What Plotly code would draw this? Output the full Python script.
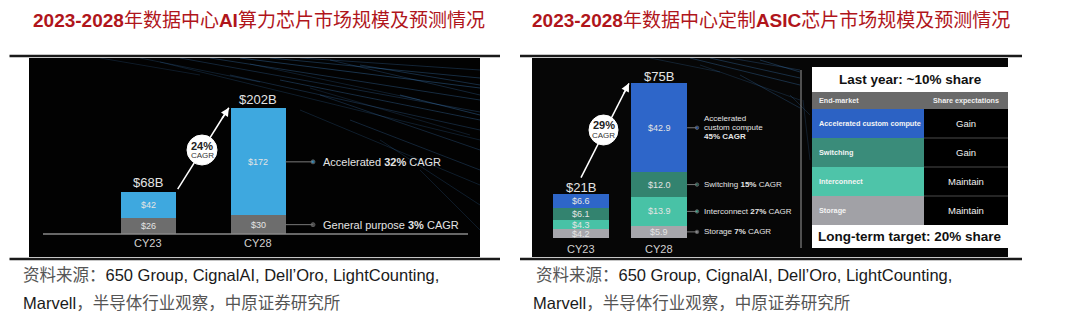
import plotly.graph_objects as go

W, H = 1080, 318

# ---------------- data ----------------
years = ["CY23", "CY28"]

ai_general = [26, 30]
ai_accelerated = [42, 172]
ai_total_labels = ["$68B", "$202B"]
ai_cagr = "24%"
ai_segment_names = ["General purpose", "Accelerated"]
ai_segment_cagr = ["3%", "32%"]

asic_storage = [4.2, 5.9]
asic_interconnect = [4.3, 13.9]
asic_switching = [6.1, 12.0]
asic_accelerated = [6.6, 42.9]
asic_total_labels = ["$21B", "$75B"]
asic_cagr = "29%"
asic_segment_names = ["Storage", "Interconnect", "Switching", "Accelerated custom compute"]
asic_segment_cagr = ["7%", "27%", "15%", "45%"]

table_top = "Last year: ~10% share"
table_bottom = "Long-term target: 20% share"
table_header = ["End-market", "Share expectations"]
table_markets = ["Accelerated custom compute", "Switching", "Interconnect", "Storage"]
table_expect = ["Gain", "Gain", "Maintain", "Maintain"]

title_left = "<b>2023-2028</b>年数据中心<b>AI</b>算力芯片市场规模及预测情况"
title_right = "<b>2023-2028</b>年数据中心定制<b>ASIC</b>芯片市场规模及预测情况"
source_1 = "<span style='color:#555'>资料来源：</span>650 Group, CignalAI, Dell’Oro, LightCounting,"
source_2 = "Marvell<span style='color:#555'>，半导体行业观察，中原证券研究所</span>"

# ---------------- styles ----------------
C_AI_GEN = "#6d6d6d"
C_AI_ACC = "#3ea8df"
C_STOR = "#a6a6ab"
C_INTER = "#48c2a6"
C_SWITCH = "#33836f"
C_ACC = "#2e66c9"
T_COLORS = ["#2c62c4", "#3a8c7a", "#4ec4a9", "#a1a1a6"]
FONT = "Liberation Sans, Arial, Noto Sans CJK SC, sans-serif"
TXT = "#e4e4e4"

KL = 0.622   # px per $B, left chart
KR = 2.07    # px per $B, right chart
PXL = 110.0  # px per category step, left
PXR = 78.0   # px per category step, right


def PX(x):
    return x / W


def PY(y):
    return 1 - y / H


def lx(p):
    return (p - 148) / PXL


def ly(p):
    return (234 - p) / KL


def rx(p):
    return (p - 581) / PXR


def ry(p):
    return (238 - p) / KR


fig = go.Figure()
xs = [0, 1]

# ---------------- bars ----------------
for vals, col in [(ai_general, C_AI_GEN), (ai_accelerated, C_AI_ACC)]:
    fig.add_bar(x=xs, y=vals, width=0.5, marker=dict(color=col, line=dict(width=0)),
                xaxis="x", yaxis="y", hoverinfo="skip")
asic_series = [asic_storage, asic_interconnect, asic_switching, asic_accelerated]
asic_cols = [C_STOR, C_INTER, C_SWITCH, C_ACC]
for vals, col in zip(asic_series, asic_cols):
    fig.add_bar(x=xs, y=vals, width=0.72, marker=dict(color=col, line=dict(width=0)),
                xaxis="x2", yaxis="y2", hoverinfo="skip")

shapes = []
ann = []

# black image backgrounds
shapes.append(dict(type="rect", xref="paper", yref="paper", x0=PX(29), x1=PX(480),
                   y0=PY(257), y1=PY(58), fillcolor="#020202", line=dict(width=0), layer="below"))
shapes.append(dict(type="rect", xref="paper", yref="paper", x0=PX(532), x1=PX(1008),
                   y0=PY(257), y1=PY(58), fillcolor="#060606", line=dict(width=0), layer="below"))

# decorative light streaks
streaks_left = [(180, 58, 480, 112, 0.25), (210, 58, 480, 100, 0.3), (240, 58, 480, 88, 0.35),
                (270, 58, 480, 78, 0.3), (300, 58, 480, 70, 0.25), (160, 62, 480, 140, 0.2),
                (230, 75, 480, 130, 0.25), (280, 80, 480, 120, 0.3), (320, 95, 480, 150, 0.25),
                (300, 110, 480, 185, 0.2), (350, 120, 480, 170, 0.25), (380, 140, 480, 205, 0.2),
                (400, 95, 480, 115, 0.35), (360, 65, 480, 85, 0.3), (140, 58, 260, 82, 0.2),
                (100, 58, 200, 75, 0.18), (420, 170, 480, 230, 0.18), (330, 60, 480, 95, 0.25),
                (250, 64, 420, 100, 0.2), (310, 88, 470, 135, 0.18)]
for x0, y0, x1, y1, a in streaks_left:
    shapes.append(dict(type="line", xref="x", yref="y", x0=lx(x0), y0=ly(y0), x1=lx(x1), y1=ly(y1),
                       line=dict(color=f"rgba(70,140,210,{a})", width=1), layer="below"))
streaks_right = [(690, 58, 800, 85, 0.3), (710, 58, 800, 78, 0.3), (730, 58, 800, 70, 0.25),
                 (700, 65, 800, 100, 0.2), (740, 75, 800, 108, 0.25), (760, 60, 800, 72, 0.3),
                 (650, 58, 720, 72, 0.2), (790, 95, 810, 115, 0.2), (803, 100, 810, 160, 0.18)]
for x0, y0, x1, y1, a in streaks_right:
    shapes.append(dict(type="line", xref="x2", yref="y2", x0=rx(x0), y0=ry(y0), x1=rx(x1), y1=ry(y1),
                       line=dict(color=f"rgba(70,140,210,{a})", width=1), layer="below"))

# frame lines above / below each panel
for xa, xb in [(9.5, 500), (520, 1022)]:
    shapes.append(dict(type="line", xref="paper", yref="paper", x0=PX(xa), x1=PX(xb),
                       y0=PY(56), y1=PY(56), line=dict(color="#1a1a1a", width=2.5)))
    shapes.append(dict(type="line", xref="paper", yref="paper", x0=PX(xa), x1=PX(xb),
                       y0=PY(259), y1=PY(259), line=dict(color="#1a1a1a", width=2.5)))

# left baseline
shapes.append(dict(type="line", xref="x", yref="y", x0=lx(43), x1=lx(468), y0=0, y1=0,
                   line=dict(color="#8a8a8a", width=1.5)))

# right separator
shapes.append(dict(type="line", xref="paper", yref="paper", x0=PX(801), x1=PX(801),
                   y0=PY(70), y1=PY(248), line=dict(color="#9a9a9a", width=1)))

# ---------------- left chart labels ----------------
ai_series = [ai_general, ai_accelerated]
for i in range(2):
    cum = 0
    for s in ai_series:
        v = s[i]
        ann.append(dict(xref="x", yref="y", x=xs[i], y=cum + v / 2, text=f"${v:g}", showarrow=False,
                        font=dict(size=9, color=TXT, family=FONT)))
        cum += v
    ann.append(dict(xref="x", yref="y", x=xs[i], y=cum, yshift=9, text=ai_total_labels[i],
                    showarrow=False, font=dict(size=13, color=TXT, family=FONT)))
    ann.append(dict(xref="x", yref="y", x=xs[i], y=0, yshift=-9, text=years[i], showarrow=False,
                    font=dict(size=11, color="#d0d0d0", family=FONT)))

cum = 0
for s, nm, cg, dot in zip(ai_series, ai_segment_names, ai_segment_cagr, [C_AI_GEN, C_AI_ACC]):
    mid = cum + s[1] / 2
    cum += s[1]
    fig.add_scatter(x=[1 + 0.25, lx(313)], y=[mid, mid], mode="lines+markers", xaxis="x", yaxis="y",
                    line=dict(color="#7a7a7a", width=1), marker=dict(size=[0, 4], color=dot),
                    hoverinfo="skip")
    ann.append(dict(xref="x", yref="y", x=lx(321), y=mid, xanchor="left", showarrow=False,
                    text=f"{nm} <b>{cg}</b> CAGR", font=dict(size=11, color=TXT, family=FONT)))

# left CAGR arrow + circle
tl = [sum(v) for v in zip(*ai_series)]
a0 = (0 + 0.27, tl[0] + 4)
a1 = (1 - 0.265, tl[1] + 1)
shapes.append(dict(type="line", xref="x", yref="y", x0=a0[0], y0=a0[1], x1=a1[0], y1=a1[1],
                   line=dict(color="white", width=1.5)))
ann.append(dict(xref="x", yref="y", axref="x", ayref="y", x=a1[0], y=a1[1],
                ax=a0[0] + 0.85 * (a1[0] - a0[0]), ay=a0[1] + 0.85 * (a1[1] - a0[1]),
                text="", showarrow=True, arrowhead=2, arrowsize=1.1, arrowwidth=1.5, arrowcolor="white"))
shapes.append(dict(type="circle", xref="paper", yref="paper", x0=PX(187), x1=PX(217),
                   y0=PY(165), y1=PY(135), fillcolor="white", line=dict(color="white", width=1)))
ann.append(dict(xref="paper", yref="paper", x=PX(202), y=PY(146), text=f"<b>{ai_cagr}</b>",
                showarrow=False, font=dict(size=11, color="#222", family=FONT)))
ann.append(dict(xref="paper", yref="paper", x=PX(202), y=PY(155.5), text="CAGR",
                showarrow=False, font=dict(size=8, color="#333", family=FONT)))

# ---------------- right chart labels ----------------
for i in range(2):
    cum = 0
    for s in asic_series:
        v = s[i]
        ann.append(dict(xref="x2", yref="y2", x=xs[i], y=cum + v / 2, text=f"${v:.1f}", showarrow=False,
                        font=dict(size=9, color=TXT, family=FONT)))
        cum += v
    ann.append(dict(xref="x2", yref="y2", x=xs[i], y=cum, yshift=7, text=asic_total_labels[i],
                    showarrow=False, font=dict(size=13, color=TXT, family=FONT)))
    ann.append(dict(xref="x2", yref="y2", x=xs[i], y=0, yshift=-11, text=years[i], showarrow=False,
                    font=dict(size=11, color="#d0d0d0", family=FONT)))

cum = 0
for s, nm, cg, dot in zip(asic_series, asic_segment_names, asic_segment_cagr, asic_cols):
    mid = cum + s[1] / 2
    cum += s[1]
    fig.add_scatter(x=[1 + 0.36, rx(697)], y=[mid, mid], mode="lines+markers", xaxis="x2", yaxis="y2",
                    line=dict(color="#7a7a7a", width=1), marker=dict(size=[0, 3.5], color=dot),
                    hoverinfo="skip")
    if nm == "Accelerated custom compute":
        lines = ["Accelerated", "custom compute", f"<b>{cg} CAGR</b>"]
        for k, t in enumerate(lines):
            ann.append(dict(xref="x2", yref="y2", x=rx(702), y=mid, yshift=9 - 9 * k, xanchor="left",
                            showarrow=False, text=t, font=dict(size=8, color=TXT, family=FONT)))
    else:
        ann.append(dict(xref="x2", yref="y2", x=rx(702), y=mid, xanchor="left", showarrow=False,
                        text=f"{nm} <b>{cg}</b> CAGR", font=dict(size=8, color=TXT, family=FONT)))

tr = [sum(v) for v in zip(*asic_series)]
b0 = (0, tr[0] + 8)
b1 = (1 - 0.385, tr[1])
shapes.append(dict(type="line", xref="x2", yref="y2", x0=b0[0], y0=b0[1], x1=b1[0], y1=b1[1],
                   line=dict(color="white", width=1.5)))
ann.append(dict(xref="x2", yref="y2", axref="x2", ayref="y2", x=b1[0], y=b1[1],
                ax=b0[0] + 0.88 * (b1[0] - b0[0]), ay=b0[1] + 0.88 * (b1[1] - b0[1]),
                text="", showarrow=True, arrowhead=2, arrowsize=1.1, arrowwidth=1.5, arrowcolor="white"))
shapes.append(dict(type="circle", xref="paper", yref="paper", x0=PX(589), x1=PX(618),
                   y0=PY(145), y1=PY(115), fillcolor="white", line=dict(color="white", width=1)))
ann.append(dict(xref="paper", yref="paper", x=PX(603.5), y=PY(125.5), text=f"<b>{asic_cagr}</b>",
                showarrow=False, font=dict(size=11, color="#222", family=FONT)))
ann.append(dict(xref="paper", yref="paper", x=PX(603.5), y=PY(135.5), text="CAGR",
                showarrow=False, font=dict(size=8, color="#333", family=FONT)))

# ---------------- table ----------------
TX0, TXM, TX1 = 812, 924, 1008
shapes.append(dict(type="rect", xref="paper", yref="paper", x0=PX(TX0), x1=PX(TX1), y0=PY(92), y1=PY(67),
                   fillcolor="white", line=dict(width=0)))
ann.append(dict(xref="paper", yref="paper", x=PX((TX0 + TX1) / 2), y=PY(79.5), text=f"<b>{table_top}</b>",
                showarrow=False, font=dict(size=13.5, color="#111", family=FONT)))
shapes.append(dict(type="rect", xref="paper", yref="paper", x0=PX(TX0), x1=PX(TX1), y0=PY(109), y1=PY(92),
                   fillcolor="#6a6a6a", line=dict(width=0)))
ann.append(dict(xref="paper", yref="paper", x=PX(817), y=PY(100.5), xanchor="left",
                text=f"<b>{table_header[0]}</b>", showarrow=False, font=dict(size=7.2, color="#f0f0f0", family=FONT)))
ann.append(dict(xref="paper", yref="paper", x=PX(966), y=PY(100.5),
                text=f"<b>{table_header[1]}</b>", showarrow=False, font=dict(size=7.2, color="#f0f0f0", family=FONT)))
RH = 29
for i, (m, e) in enumerate(zip(table_markets, table_expect)):
    y0 = 109 + i * RH
    y1 = y0 + RH
    shapes.append(dict(type="rect", xref="paper", yref="paper", x0=PX(TX0), x1=PX(TXM), y0=PY(y1), y1=PY(y0),
                       fillcolor=T_COLORS[i], line=dict(width=0)))
    shapes.append(dict(type="rect", xref="paper", yref="paper", x0=PX(TXM), x1=PX(TX1), y0=PY(y1), y1=PY(y0),
                       fillcolor="#000000", line=dict(width=0)))
    if i > 0:
        shapes.append(dict(type="line", xref="paper", yref="paper", x0=PX(TXM), x1=PX(TX1), y0=PY(y0), y1=PY(y0),
                           line=dict(color="#4a4a4a", width=1)))
    ann.append(dict(xref="paper", yref="paper", x=PX(817), y=PY((y0 + y1) / 2), xanchor="left",
                    text=f"<b>{m}</b>", showarrow=False, font=dict(size=7.3, color="#f4f4f4", family=FONT)))
    ann.append(dict(xref="paper", yref="paper", x=PX(966), y=PY((y0 + y1) / 2),
                    text=e, showarrow=False, font=dict(size=9.5, color="#f0f0f0", family=FONT)))
shapes.append(dict(type="rect", xref="paper", yref="paper", x0=PX(TX0), x1=PX(TX1), y0=PY(248), y1=PY(225),
                   fillcolor="white", line=dict(width=0)))
ann.append(dict(xref="paper", yref="paper", x=PX((TX0 + TX1) / 2), y=PY(237), text=f"<b>{table_bottom}</b>",
                showarrow=False, font=dict(size=13.5, color="#111", family=FONT)))

# ---------------- titles & sources ----------------
for xt, t in [(31, title_left), (530, title_right)]:
    ann.append(dict(xref="paper", yref="paper", x=PX(xt), y=PY(21), xanchor="left", yanchor="middle",
                    text=t, showarrow=False, font=dict(size=19, color="#b0151b", family=FONT)))
for xt, yt, t in [(21, 275, source_1), (21, 303, source_2), (534, 275, source_1), (531, 303, source_2)]:
    ann.append(dict(xref="paper", yref="paper", x=PX(xt), y=PY(yt), xanchor="left", yanchor="middle",
                    text=t, showarrow=False, font=dict(size=16.5, color="#1a1a1a", family=FONT)))

# explicit anchors (avoid paper 'auto' anchoring)
for a in ann:
    a.setdefault("xanchor", "center")
    a.setdefault("yanchor", "middle")

fig.update_layout(
    width=W, height=H, margin=dict(l=0, r=0, t=0, b=0),
    paper_bgcolor="white", plot_bgcolor="rgba(0,0,0,0)",
    barmode="stack", showlegend=False, hovermode=False,
    xaxis=dict(domain=[PX(29), PX(480)], range=[lx(29), lx(480)], visible=False, anchor="y"),
    yaxis=dict(domain=[PY(257), PY(58)], range=[ly(257), ly(58)], visible=False, anchor="x"),
    xaxis2=dict(domain=[PX(532), PX(1008)], range=[rx(532), rx(1008)], visible=False, anchor="y2"),
    yaxis2=dict(domain=[PY(257), PY(58)], range=[ry(257), ry(58)], visible=False, anchor="x2"),
    shapes=shapes, annotations=ann,
)

fig.write_html("out.html")
